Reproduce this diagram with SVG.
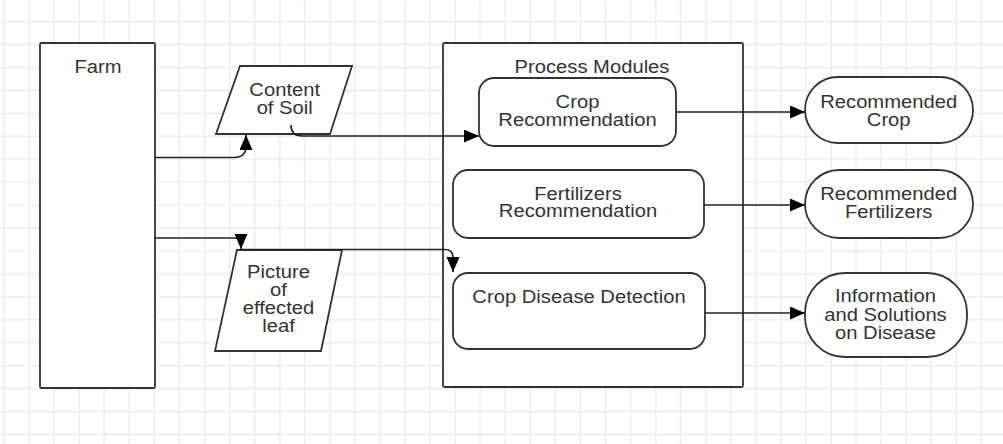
<svg xmlns="http://www.w3.org/2000/svg" width="1003" height="444" viewBox="0 0 1003 444">
  <style>
    .shape { fill: #ffffff; stroke: #333333; stroke-width: 1.8; }
    .conn { fill: none; stroke: #222222; stroke-width: 1.6; }
    .t { font-family: "Liberation Sans", Arial, sans-serif; font-size: 18.5px; fill: #333333; text-anchor: middle; }
  </style>
  <defs>
    <pattern id="grid" patternUnits="userSpaceOnUse" x="-8.53" y="-12.665" width="25.06" height="22.93">
      <path d="M12.53,0 V22.93 M0,11.465 H25.06" stroke="#ececec" stroke-width="1.5" fill="none"/>
    </pattern>
    <marker id="arrow" markerUnits="userSpaceOnUse" markerWidth="16" markerHeight="14" refX="15" refY="6.5" orient="auto">
      <path d="M0,0 L15,6.5 L0,13 Z" fill="#000000"/>
    </marker>
  </defs>

  <rect x="0" y="0" width="1003" height="444" fill="#ffffff"/>
  <rect x="0" y="0" width="1003" height="444" fill="url(#grid)"/>

  <g id="farm">
    <rect class="shape" x="40" y="43" width="115" height="345" rx="1.5"/>
    <text class="t" transform="translate(98,73) scale(1.093,1)">Farm</text>
  </g>

  <g id="process-modules">
    <rect class="shape" x="443" y="43" width="300" height="344" rx="1.5"/>
    <text class="t" transform="translate(592,72.5) scale(1.093,1)">Process Modules</text>
  </g>

  <g id="content-of-soil">
    <polygon class="shape" points="240,66 352,66 330,134 216,134"/>
    <text class="t" transform="translate(284.7,96) scale(1.093,1)"><tspan x="0" y="0">Content</tspan><tspan x="0" y="18.3">of Soil</tspan></text>
  </g>

  <g id="picture-of-leaf">
    <polygon class="shape" points="237,250 342,250 321,351 215,351"/>
    <text class="t" transform="translate(278.5,278.3) scale(1.093,1)"><tspan x="0" y="0">Picture</tspan><tspan x="0" y="17.8">of</tspan><tspan x="0" y="35.6">effected</tspan><tspan x="0" y="53.4">leaf</tspan></text>
  </g>

  <g id="crop-recommendation">
    <rect class="shape" x="479" y="78" width="197" height="68" rx="15"/>
    <text class="t" transform="translate(577.5,108) scale(1.093,1)"><tspan x="0" y="0">Crop</tspan><tspan x="0" y="18">Recommendation</tspan></text>
  </g>

  <g id="fertilizers-recommendation">
    <rect class="shape" x="453" y="170" width="251" height="68" rx="15"/>
    <text class="t" transform="translate(578,199.5) scale(1.093,1)"><tspan x="0" y="0">Fertilizers</tspan><tspan x="0" y="18">Recommendation</tspan></text>
  </g>

  <g id="crop-disease-detection">
    <rect class="shape" x="453" y="273" width="252" height="76" rx="15"/>
    <text class="t" transform="translate(579,302.7) scale(1.093,1)">Crop Disease Detection</text>
  </g>

  <g id="recommended-crop">
    <rect class="shape" x="805" y="77" width="168" height="66" rx="33"/>
    <text class="t" transform="translate(888.7,107.7) scale(1.093,1)"><tspan x="0" y="0">Recommended</tspan><tspan x="0" y="18">Crop</tspan></text>
  </g>

  <g id="recommended-fertilizers">
    <rect class="shape" x="805" y="170" width="168" height="68" rx="34"/>
    <text class="t" transform="translate(888.7,200) scale(1.093,1)"><tspan x="0" y="0">Recommended</tspan><tspan x="0" y="18">Fertilizers</tspan></text>
  </g>

  <g id="information-on-disease">
    <rect class="shape" x="805" y="273" width="162" height="84" rx="40"/>
    <text class="t" transform="translate(885.5,302.3) scale(1.093,1)"><tspan x="0" y="0">Information</tspan><tspan x="0" y="18.5">and Solutions</tspan><tspan x="0" y="37">on Disease</tspan></text>
  </g>

  <g id="connectors">
    <path class="conn" d="M155,157.5 H234 Q246,157.5 246,146 L246,135" marker-end="url(#arrow)"/>
    <path class="conn" d="M155,238 H234 Q241,238 241,243 L241,249" marker-end="url(#arrow)"/>
    <path class="conn" d="M291,125 Q291,136 302,136 H479" marker-end="url(#arrow)"/>
    <path class="conn" d="M240,249.5 H445 Q453,249.5 453,258 L453,272" marker-end="url(#arrow)"/>
    <path class="conn" d="M676,112 H805" marker-end="url(#arrow)"/>
    <path class="conn" d="M704,205 H805" marker-end="url(#arrow)"/>
    <path class="conn" d="M705,313 H805" marker-end="url(#arrow)"/>
  </g>
</svg>
